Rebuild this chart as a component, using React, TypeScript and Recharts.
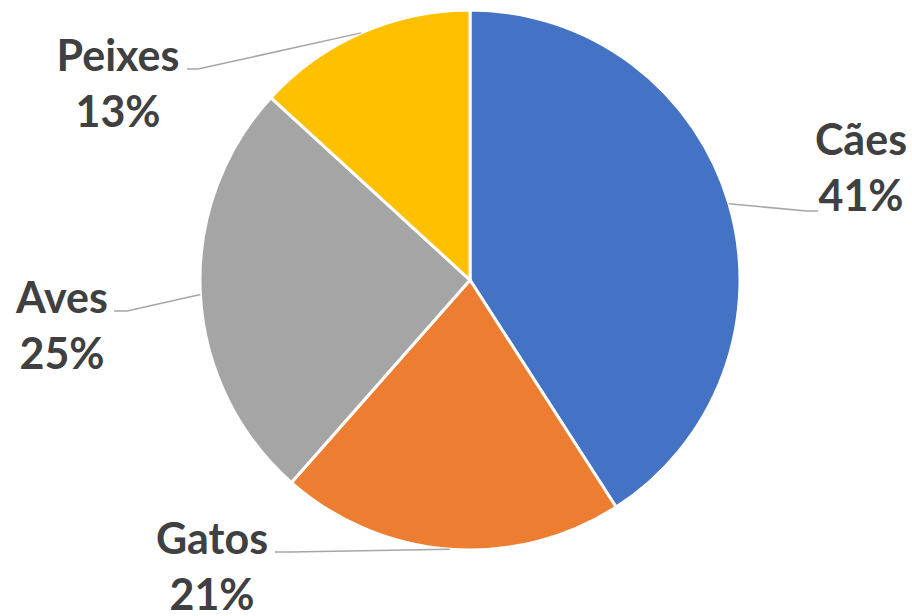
import React from "react";
import { PieChart, Pie, Cell } from "recharts";

const categories = ["Cães", "Gatos", "Aves", "Peixes"];
const shares = [40.9, 20.6, 25.3, 13.2];
const COLORS = ["#4472C4", "#ED7D31", "#A5A5A5", "#FFC000"];

// label placement (text centre, first baseline, leader elbow and end), page coords
const LABEL_LAYOUT = [
    { tx: 861, ty: 155, ex: 807, ey: 211, lx: 818, ly: 211 },
    { tx: 212, ty: 554, ex: 290, ey: 552, lx: 275, ly: 552 },
    { tx: 62, ty: 313, ex: 127, ey: 311, lx: 114, ly: 311 },
    { tx: 118, ty: 71, ex: 198, ey: 69, lx: 187, ly: 69 },
];

const data = categories.map((name, i) => ({ name, value: shares[i] }));

const RAD = Math.PI / 180;

const renderLabel = (props: any) => {
    const { cx, cy, midAngle, outerRadius, index, percent, name } = props;
    const lay = LABEL_LAYOUT[index];
    const sx = cx + outerRadius * Math.cos(-midAngle * RAD);
    const sy = cy + outerRadius * Math.sin(-midAngle * RAD);
    return (
        <g key={`lbl-${index}`}>
            <polyline
                points={`${sx},${sy} ${lay.ex},${lay.ey} ${lay.lx},${lay.ly}`}
                fill="none"
                stroke="#A6A6A6"
                strokeWidth={1.5}
            />
            <text
                x={lay.tx}
                y={lay.ty}
                textAnchor="middle"
                fill="#404040"
                fontFamily="Lato, 'Open Sans', sans-serif"
                fontWeight={700}
                fontSize={43}
            >
                <tspan x={lay.tx} y={lay.ty}>{name}</tspan>
                <tspan x={lay.tx} y={lay.ty + 56}>{`${Math.round(percent * 100)}%`}</tspan>
            </text>
        </g>
    );
};

const App: React.FC = () => {
    return (
        <div style={{ position: "absolute", left: 0, top: 0, background: "#fff" }}>
            <PieChart width={912} height={616} margin={{ top: 0, right: 0, bottom: 0, left: 0 }}>
                <Pie
                    data={data}
                    dataKey="value"
                    nameKey="name"
                    cx={470}
                    cy={280}
                    outerRadius={270}
                    startAngle={90}
                    endAngle={-270}
                    stroke="#FFFFFF"
                    strokeWidth={3}
                    label={renderLabel}
                    labelLine={false}
                    isAnimationActive={false}
                >
                    {data.map((entry, index) => (
                        <Cell key={entry.name} fill={COLORS[index]} />
                    ))}
                </Pie>
            </PieChart>
        </div>
    );
};

export default App;
